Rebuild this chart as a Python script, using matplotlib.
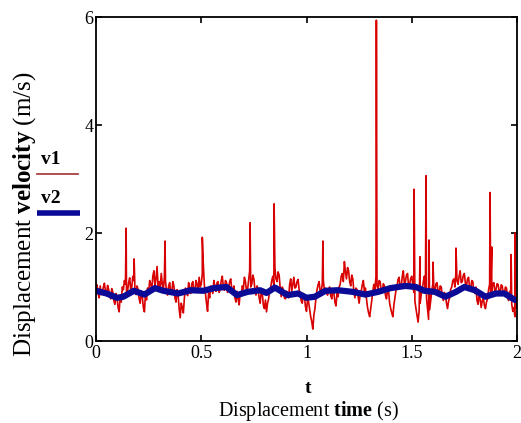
import numpy as np
import matplotlib
matplotlib.use("Agg")
import matplotlib.pyplot as plt
from matplotlib.lines import Line2D

plt.rcParams['font.family'] = ['Liberation Serif', 'DejaVu Serif']
plt.rcParams['mathtext.fontset'] = 'custom'
plt.rcParams['mathtext.rm'] = 'Liberation Serif'
plt.rcParams['mathtext.bf'] = 'Liberation Serif:bold'

# v1 sampled every 0.005 s from 0 to 2 s (one row = 0.1 s)
v1 = [
    0.95, 1.04, 0.88, 0.80, 1.02, 0.86, 0.90, 1.00, 1.07, 0.92, 0.85, 1.03, 0.96, 0.84, 0.78, 0.97, 0.90, 0.74, 0.68, 0.88,
    0.80, 0.62, 0.54, 0.85, 0.72, 1.00, 0.95, 1.12, 1.05, 0.86, 0.92, 1.08, 1.17, 0.94, 1.00, 1.20, 1.12, 0.95, 0.86, 1.02,
    0.95, 0.78, 0.70, 0.92, 0.82, 0.62, 0.54, 0.88, 0.76, 0.98, 0.90, 1.12, 1.05, 0.96, 1.20, 1.30, 1.02, 1.15, 1.38, 1.00,
    1.10, 0.98, 1.25, 1.05, 0.95, 1.20, 1.12, 0.90, 0.85, 1.02, 1.08, 0.88, 0.90, 1.10, 1.02, 0.80, 0.72, 0.95, 0.85, 0.60,
    0.43, 0.70, 0.62, 0.52, 0.80, 0.98, 0.95, 0.84, 1.08, 0.96, 0.88, 1.06, 1.10, 0.90, 0.92, 1.12, 1.05, 0.94, 1.18, 1.00,
    1.05, 1.25, 1.40, 1.02, 0.88, 0.70, 0.55, 0.90, 0.80, 1.02, 0.95, 0.88, 1.12, 1.00, 0.92, 1.08, 1.10, 0.90, 0.96, 1.12,
    1.20, 1.00, 0.94, 1.12, 1.08, 0.90, 0.98, 1.10, 1.15, 0.96, 0.92, 1.02, 0.80, 0.72, 0.92, 0.78, 0.67, 0.90, 0.84, 1.02,
    0.96, 1.18, 1.10, 0.92, 0.95, 1.12, 1.30, 1.00, 1.05, 1.22, 1.15, 0.95, 0.85, 1.02, 0.96, 0.80, 0.70, 0.92, 0.88, 0.66,
    0.60, 0.76, 0.54, 0.70, 0.78, 0.95, 1.00, 1.12, 1.20, 1.02, 1.35, 1.15, 1.10, 1.28, 1.22, 0.98, 0.82, 1.00, 0.95, 0.80,
    0.78, 0.92, 0.90, 0.80, 1.05, 1.15, 0.92, 1.05, 1.18, 0.98, 1.00, 1.10, 1.14, 0.95, 0.88, 0.74, 0.70, 0.88, 0.82, 0.64,
    0.55, 0.78, 0.72, 0.58, 0.45, 0.36, 0.22, 0.48, 0.60, 0.80, 0.95, 1.04, 1.10, 0.90, 0.92, 1.06, 1.12, 0.94, 0.98, 0.90,
    0.85, 0.96, 1.00, 0.84, 0.78, 0.94, 0.90, 0.72, 0.65, 0.88, 0.82, 1.00, 1.05, 1.20, 1.25, 1.10, 1.47, 1.28, 1.15, 1.36,
    1.30, 1.10, 1.02, 1.22, 1.15, 0.92, 0.80, 0.98, 0.95, 0.82, 0.70, 0.86, 0.92, 1.04, 1.12, 0.92, 0.98, 0.78, 0.62, 0.52,
    0.45, 0.60, 0.75, 0.92, 1.05, 0.94, 1.20, 1.02, 0.95, 1.12, 1.10, 0.92, 0.90, 1.06, 1.02, 0.85, 0.78, 0.96, 0.92, 0.70,
    0.60, 0.52, 0.45, 0.66, 0.80, 0.94, 1.02, 1.14, 1.18, 0.98, 1.00, 1.20, 1.30, 1.05, 1.10, 1.22, 1.25, 1.00, 1.05, 1.16,
    1.20, 1.04, 0.90, 0.74, 0.60, 0.48, 0.35, 0.55, 0.70, 0.86, 0.95, 1.10, 1.20, 0.98, 0.80, 0.60, 0.40, 0.58, 0.75, 0.92,
    1.05, 0.94, 0.92, 1.06, 1.08, 0.92, 0.88, 1.02, 1.00, 0.84, 0.75, 0.90, 0.85, 0.70, 0.60, 0.74, 0.80, 0.96, 1.00, 1.12,
    1.15, 1.00, 1.28, 1.12, 1.05, 1.20, 1.30, 1.08, 1.10, 1.22, 1.25, 1.06, 1.02, 1.15, 1.18, 0.98, 0.95, 1.12, 1.10, 0.92,
    0.88, 1.00, 0.75, 0.68, 0.90, 0.76, 0.62, 0.75, 0.80, 0.66, 0.60, 0.72, 0.78, 0.95, 1.05, 0.90, 0.92, 1.06, 1.08, 0.90,
    0.95, 1.06, 1.05, 0.92, 0.90, 1.04, 1.02, 0.86, 0.88, 1.00, 0.98, 0.82, 0.75, 0.92, 0.85, 0.68, 0.55, 0.62, 0.45, 0.60,
    0.72,
]
# narrow spikes in v1
spike_t = [0.143, 0.181, 0.328, 0.505, 0.732, 0.846, 1.078, 1.332, 1.511,
           1.539, 1.568, 1.582, 1.601, 1.710, 1.872, 1.880, 1.972, 1.990]
spike_v = [2.09, 1.52, 1.85, 1.92, 2.19, 2.54, 1.85, 5.94, 2.81,
           1.56, 3.06, 1.87, 1.46, 1.72, 2.75, 1.74, 1.60, 2.00]

# v2 (smoothed)
t_v2 = [0.00, 0.05, 0.10, 0.13, 0.18, 0.23, 0.28, 0.32, 0.39, 0.45,
        0.51, 0.56, 0.62, 0.67, 0.72, 0.78, 0.81, 0.85, 0.91, 0.96,
        1.00, 1.04, 1.09, 1.15, 1.22, 1.28, 1.34, 1.40, 1.47, 1.52,
        1.56, 1.61, 1.66, 1.71, 1.75, 1.80, 1.85, 1.90, 1.94, 1.99, 2.00]
v2 = [0.93, 0.88, 0.80, 0.82, 0.93, 0.86, 0.98, 0.93, 0.88, 0.94,
      0.93, 0.98, 1.00, 0.85, 0.91, 0.94, 0.89, 0.99, 0.85, 0.88,
      0.80, 0.82, 0.93, 0.94, 0.91, 0.86, 0.91, 0.98, 1.02, 1.00,
      0.93, 0.91, 0.82, 0.91, 1.00, 0.94, 0.82, 0.88, 0.88, 0.76, 0.76]

t_v1 = np.linspace(0, 2, len(v1))
t_all = np.concatenate([t_v1, spike_t])
v_all = np.concatenate([v1, spike_v])
order = np.argsort(t_all, kind='stable')

red = '#d80000'
blue = '#0a0a96'

fig = plt.figure(figsize=(5.21, 4.23), dpi=100)
ax = fig.add_axes([96 / 521, 1 - 341 / 423, 421 / 521, 324 / 423])
ax.plot(t_all[order], v_all[order], color=red, lw=1.2)
ax.plot(t_v2, v2, color=blue, lw=4.5, solid_capstyle='butt')

ax.set_xlim(0, 2)
ax.set_ylim(0, 6)
ax.set_xticks([0, 0.5, 1, 1.5, 2])
ax.set_xticklabels(['0', '0.5', '1', '1.5', '2'])
ax.set_yticks([0, 2, 4, 6])
ax.tick_params(direction='in', length=4, width=1.2, top=True, right=True,
               labelsize=13, pad=3)
ax.tick_params(axis='y', pad=2)
for s in ax.spines.values():
    s.set_linewidth(1.3)

fig.text(308 / 521, 1 - 388 / 423, 't', ha='center', va='center',
         fontsize=14, fontweight='bold')
fig.text(308 / 521, 1 - 411 / 423, r'Displacement $\mathbf{time}$ (s)',
         ha='center', va='center', fontsize=14.5)
fig.text(25 / 521, 1 - 214 / 423, r'Displacement $\mathbf{velocity}$ (m/s)',
         ha='center', va='center', rotation=90, fontsize=18)

# legend on the left
fig.text(51 / 521, 1 - 160 / 423, 'v1', ha='center', va='center',
         fontsize=14, fontweight='bold')
fig.text(51 / 521, 1 - 198 / 423, 'v2', ha='center', va='center',
         fontsize=14, fontweight='bold')
fig.add_artist(Line2D([37 / 521, 78 / 521], [1 - 174 / 423, 1 - 174 / 423],
                      color='#a03030', lw=1.2))
fig.add_artist(Line2D([37 / 521, 80 / 521], [1 - 213 / 423, 1 - 213 / 423],
                      color=blue, lw=4, solid_capstyle='butt'))

fig.savefig('out.png', dpi=100)
